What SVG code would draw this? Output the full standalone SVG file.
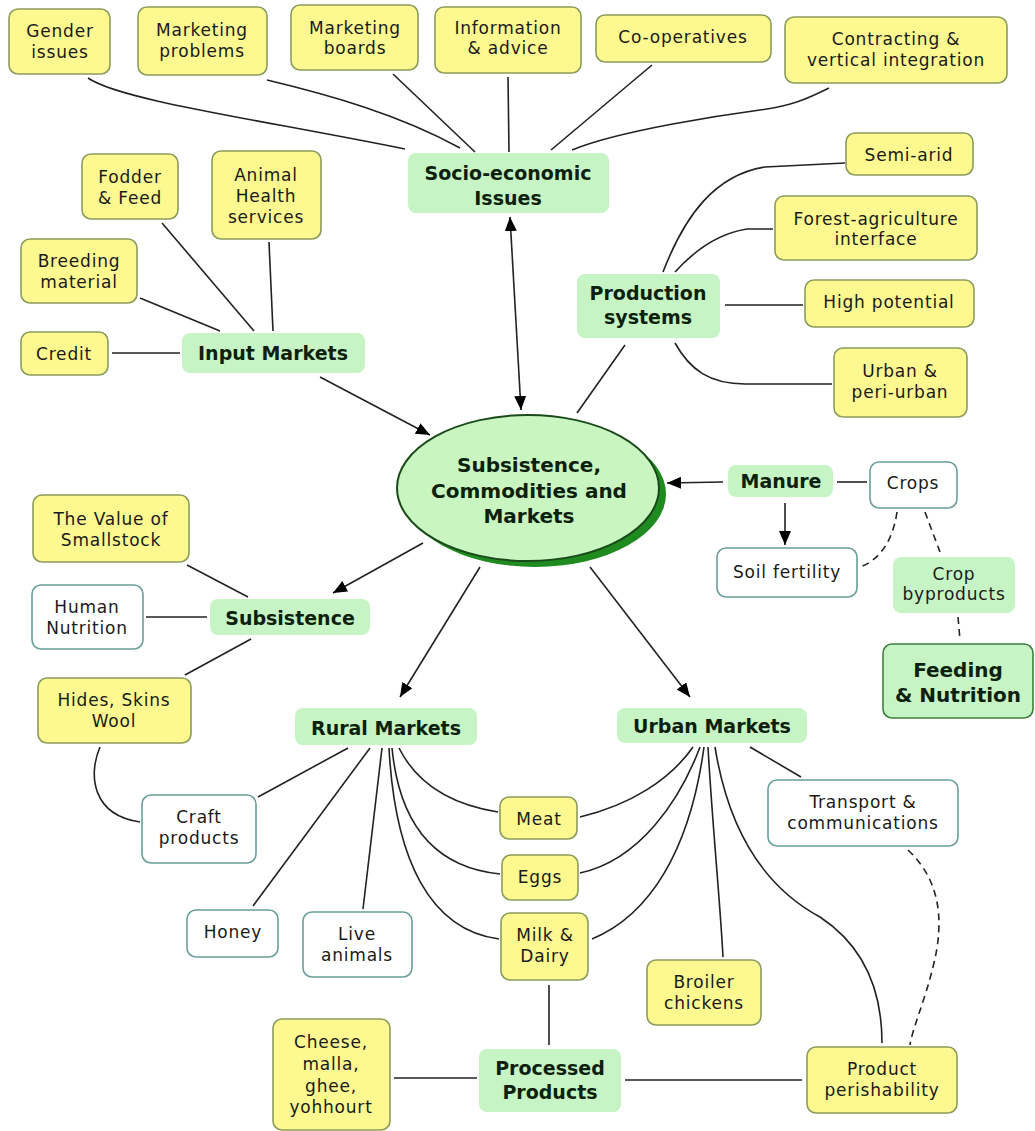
<svg xmlns="http://www.w3.org/2000/svg" width="1035" height="1131" viewBox="0 0 1035 1131">
<defs>
<style>
.y{fill:#fdf990;stroke:#8a9c5a;stroke-width:1.6}
.w{fill:#ffffff;stroke:#6a9e98;stroke-width:1.6}
.g{fill:#c6f4c4;stroke:none}
.f{fill:#c6f4c4;stroke:#3f7f3f;stroke-width:1.6}
.t{font-family:"DejaVu Sans","Verdana",sans-serif;font-size:17px;letter-spacing:0.8px;fill:#1a1a1a;text-anchor:middle}
.b{font-family:"DejaVu Sans","Verdana",sans-serif;font-size:19px;font-weight:bold;fill:#0d1f0d;text-anchor:middle}
.c path{fill:none;stroke:#222;stroke-width:1.6}
.c path.d{stroke-dasharray:7,5}
</style>
<marker id="ah" viewBox="0 0 14 12" refX="14" refY="6" markerWidth="14" markerHeight="12" markerUnits="userSpaceOnUse" orient="auto-start-reverse">
<path d="M0,0 L14,6 L0,12 z" fill="#000"/>
</marker>
</defs>
<rect width="1035" height="1131" fill="#ffffff"/>

<g id="connectors" class="c">
<path d="M88,78 C120,100 250,118 405,149"/>
<path d="M267,80 C330,95 400,115 460,148"/>
<path d="M393,74 L475,152"/>
<path d="M508,77 L509,152"/>
<path d="M652,65 L551,150"/>
<path d="M829,88 C805,100 790,106 760,110 S620,130 572,150"/>
<path d="M845,163 L765,167 C715,175 685,215 663,272"/>
<path d="M773,229 L747,229 C720,233 695,250 675,272"/>
<path d="M725,305 L803,305"/>
<path d="M675,343 C690,370 710,384 745,384 L832,384"/>
<path d="M625,345 L577,413"/>
<path d="M112,353 L180,353"/>
<path d="M140,298 L220,331"/>
<path d="M162,223 L254,331"/>
<path d="M269,242 L273,331"/>
<path d="M320,377 L430,435" marker-end="url(#ah)"/>
<path d="M510,217 L521,410" marker-start="url(#ah)" marker-end="url(#ah)"/>
<path d="M723,482 L667,483" marker-end="url(#ah)"/>
<path d="M837,482 L867,482"/>
<path d="M785,503 L785,545" marker-end="url(#ah)"/>
<path class="d" d="M897,512 C893,540 880,560 860,567"/>
<path class="d" d="M925,512 L940,552"/>
<path class="d" d="M958,617 L960,640"/>
<path d="M423,543 L333,593" marker-end="url(#ah)"/>
<path d="M480,567 L400,697" marker-end="url(#ah)"/>
<path d="M590,567 L690,697" marker-end="url(#ah)"/>
<path d="M187,565 L248,597"/>
<path d="M146,617 L207,617"/>
<path d="M185,675 L251,639"/>
<path d="M100,747 C88,775 92,815 140,822"/>
<path d="M258,797 L348,748"/>
<path d="M253,906 L370,748"/>
<path d="M363,909 L382,748"/>
<path d="M498,812 C460,806 420,790 399,748"/>
<path d="M500,874 C440,868 400,830 392,748"/>
<path d="M499,939 C430,930 395,860 389,748"/>
<path d="M580,817 C630,805 670,780 693,747"/>
<path d="M580,873 C640,860 680,800 700,747"/>
<path d="M592,939 C650,915 690,850 704,747"/>
<path d="M723,957 C720,900 712,820 708,747"/>
<path d="M715,747 C730,840 770,890 820,917 C870,950 882,1000 882,1043"/>
<path d="M750,747 L801,777"/>
<path class="d" d="M908,850 C940,880 945,920 933,967 C925,1000 912,1030 910,1045"/>
<path d="M549,985 L549,1045"/>
<path d="M394,1078 L477,1078"/>
<path d="M625,1080 L802,1080"/>
</g>

<g id="gender"><rect class="y" x="9" y="9" width="101" height="65" rx="9"/><text class="t" x="60" y="37">Gender</text><text class="t" x="60" y="58">issues</text></g>
<g id="mkt-problems"><rect class="y" x="138" y="7" width="129" height="68" rx="9"/><text class="t" x="202" y="36">Marketing</text><text class="t" x="202" y="57">problems</text></g>
<g id="mkt-boards"><rect class="y" x="291" y="5" width="127" height="65" rx="9"/><text class="t" x="355" y="34">Marketing</text><text class="t" x="355" y="54">boards</text></g>
<g id="info"><rect class="y" x="435" y="7" width="146" height="66" rx="9"/><text class="t" x="508" y="34">Information</text><text class="t" x="508" y="54">&amp; advice</text></g>
<g id="coop"><rect class="y" x="596" y="15" width="175" height="47" rx="9"/><text class="t" x="683" y="43">Co-operatives</text></g>
<g id="contracting"><rect class="y" x="785" y="17" width="222" height="66" rx="9"/><text class="t" x="896" y="45">Contracting &amp;</text><text class="t" x="896" y="66">vertical integration</text></g>
<g id="socio"><rect class="g" x="408" y="153" width="201" height="60" rx="8"/><text class="b" x="508" y="180">Socio-economic</text><text class="b" x="508" y="205">Issues</text></g>
<g id="fodder"><rect class="y" x="82" y="154" width="96" height="65" rx="9"/><text class="t" x="130" y="183">Fodder</text><text class="t" x="130" y="204">&amp; Feed</text></g>
<g id="animal-health"><rect class="y" x="212" y="151" width="109" height="88" rx="9"/><text class="t" x="266" y="181">Animal</text><text class="t" x="266" y="202">Health</text><text class="t" x="266" y="223">services</text></g>
<g id="breeding"><rect class="y" x="21" y="239" width="116" height="64" rx="9"/><text class="t" x="79" y="267">Breeding</text><text class="t" x="79" y="288">material</text></g>
<g id="credit"><rect class="y" x="21" y="332" width="87" height="43" rx="9"/><text class="t" x="64" y="360">Credit</text></g>
<g id="input-markets"><rect class="g" x="182" y="333" width="183" height="40" rx="8"/><text class="b" x="273" y="360">Input Markets</text></g>
<g id="semi-arid"><rect class="y" x="846" y="133" width="127" height="42" rx="9"/><text class="t" x="909" y="161">Semi-arid</text></g>
<g id="forest"><rect class="y" x="775" y="196" width="202" height="64" rx="9"/><text class="t" x="876" y="225">Forest-agriculture</text><text class="t" x="876" y="245">interface</text></g>
<g id="production"><rect class="g" x="577" y="274" width="143" height="64" rx="8"/><text class="b" x="648" y="300">Production</text><text class="b" x="648" y="324">systems</text></g>
<g id="high-potential"><rect class="y" x="805" y="280" width="169" height="47" rx="9"/><text class="t" x="889" y="308">High potential</text></g>
<g id="urban-peri"><rect class="y" x="834" y="348" width="133" height="69" rx="9"/><text class="t" x="900" y="377">Urban &amp;</text><text class="t" x="900" y="398">peri-urban</text></g>
<g id="center"><ellipse cx="535" cy="494" rx="131" ry="73" fill="#1f8a1f"/><ellipse cx="528" cy="488" rx="131" ry="73" fill="#c8f5c0" stroke="#1a4a1a" stroke-width="2"/><text class="b" style="font-size:20px" x="529" y="472">Subsistence,</text><text class="b" style="font-size:20px" x="529" y="498">Commodities and</text><text class="b" style="font-size:20px" x="529" y="523">Markets</text></g>
<g id="manure"><rect class="g" x="728" y="465" width="105" height="32" rx="8"/><text class="b" x="781" y="488">Manure</text></g>
<g id="crops"><rect class="w" x="870" y="462" width="87" height="46" rx="9"/><text class="t" x="913" y="489">Crops</text></g>
<g id="soil"><rect class="w" x="717" y="548" width="140" height="49" rx="9"/><text class="t" x="787" y="578">Soil fertility</text></g>
<g id="crop-byproducts"><rect class="g" x="893" y="557" width="122" height="56" rx="8"/><text class="t" x="954" y="580">Crop</text><text class="t" x="954" y="600">byproducts</text></g>
<g id="feeding"><rect class="f" x="883" y="644" width="150" height="74" rx="9"/><text class="b" style="font-size:20px" x="958" y="677">Feeding</text><text class="b" style="font-size:20px" x="958" y="702">&amp; Nutrition</text></g>
<g id="smallstock"><rect class="y" x="33" y="495" width="156" height="67" rx="9"/><text class="t" x="111" y="525">The Value of</text><text class="t" x="111" y="546">Smallstock</text></g>
<g id="human"><rect class="w" x="32" y="585" width="111" height="64" rx="9"/><text class="t" x="87" y="613">Human</text><text class="t" x="87" y="634">Nutrition</text></g>
<g id="subsistence"><rect class="g" x="210" y="599" width="160" height="36" rx="8"/><text class="b" x="290" y="625">Subsistence</text></g>
<g id="hides"><rect class="y" x="38" y="678" width="153" height="65" rx="9"/><text class="t" x="114" y="706">Hides, Skins</text><text class="t" x="114" y="727">Wool</text></g>
<g id="rural"><rect class="g" x="295" y="708" width="182" height="37" rx="8"/><text class="b" x="386" y="735">Rural Markets</text></g>
<g id="urban"><rect class="g" x="617" y="708" width="190" height="35" rx="8"/><text class="b" x="712" y="733">Urban Markets</text></g>
<g id="craft"><rect class="w" x="142" y="795" width="114" height="68" rx="9"/><text class="t" x="199" y="823">Craft</text><text class="t" x="199" y="844">products</text></g>
<g id="honey"><rect class="w" x="187" y="910" width="91" height="47" rx="9"/><text class="t" x="233" y="938">Honey</text></g>
<g id="live"><rect class="w" x="303" y="912" width="109" height="65" rx="9"/><text class="t" x="357" y="940">Live</text><text class="t" x="357" y="961">animals</text></g>
<g id="meat"><rect class="y" x="500" y="797" width="77" height="42" rx="9"/><text class="t" x="539" y="825">Meat</text></g>
<g id="eggs"><rect class="y" x="502" y="855" width="76" height="45" rx="9"/><text class="t" x="540" y="883">Eggs</text></g>
<g id="milk"><rect class="y" x="501" y="913" width="87" height="67" rx="9"/><text class="t" x="545" y="941">Milk &amp;</text><text class="t" x="545" y="962">Dairy</text></g>
<g id="transport"><rect class="w" x="768" y="780" width="190" height="66" rx="9"/><text class="t" x="863" y="808">Transport &amp;</text><text class="t" x="863" y="829">communications</text></g>
<g id="broiler"><rect class="y" x="647" y="960" width="114" height="65" rx="9"/><text class="t" x="704" y="988">Broiler</text><text class="t" x="704" y="1009">chickens</text></g>
<g id="cheese"><rect class="y" x="273" y="1019" width="117" height="111" rx="9"/><text class="t" x="331" y="1048">Cheese,</text><text class="t" x="331" y="1070">malla,</text><text class="t" x="331" y="1092">ghee,</text><text class="t" x="331" y="1113">yohhourt</text></g>
<g id="processed"><rect class="g" x="479" y="1049" width="142" height="63" rx="8"/><text class="b" x="550" y="1075">Processed</text><text class="b" x="550" y="1099">Products</text></g>
<g id="perishability"><rect class="y" x="807" y="1047" width="150" height="66" rx="9"/><text class="t" x="882" y="1075">Product</text><text class="t" x="882" y="1096">perishability</text></g>
</svg>
